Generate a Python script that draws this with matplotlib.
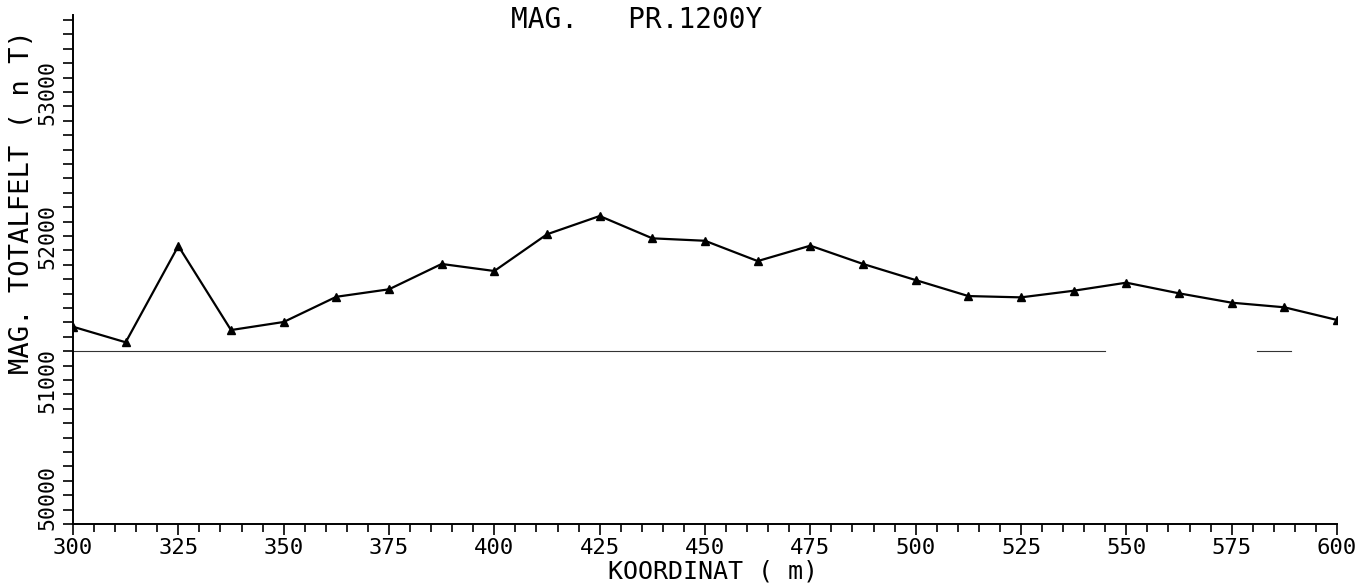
import numpy as np
import matplotlib
matplotlib.use("Agg")
import matplotlib.pyplot as plt
from matplotlib.ticker import MultipleLocator
from matplotlib.transforms import ScaledTranslation

# profile PR.1200Y, total magnetic field along the line
koordinat = [300, 312.5, 325, 337.5, 350, 362.5, 375, 387.5, 400, 412.5,
             425, 437.5, 450, 462.5, 475, 487.5, 500, 512.5, 525, 537.5,
             550, 562.5, 575, 587.5, 600]
totalfelt = [51370, 51262, 51931, 51347, 51403, 51578, 51630, 51806, 51757, 52012,
             52139, 51984, 51967, 51826, 51933, 51806, 51694, 51583, 51574, 51620,
             51676, 51602, 51537, 51505, 51417]

# faint base line seen on the plot sheet
base_level = 51200
base_segments = [(300, 545), (581, 589)]

y_major = [50000, 51000, 52000, 53000]

plt.rcParams['font.family'] = ['DejaVu Sans Mono', 'DejaVu Sans']

fig = plt.figure(figsize=(13.61, 5.86), dpi=100)
ax = fig.add_axes([73/1361, 62/586, 1264/1361, 509/586])

ax.plot(koordinat, totalfelt, color='black', lw=1.6, marker='^', ms=5.5,
        markerfacecolor='black', markeredgecolor='black')
for x0, x1 in base_segments:
    ax.plot([x0, x1], [base_level, base_level], color='#333333', lw=0.8)

ax.set_xlim(300, 600)
ax.set_ylim(50000, 53535)

for s in ['top', 'right']:
    ax.spines[s].set_visible(False)
for s in ['left', 'bottom']:
    ax.spines[s].set_linewidth(1.4)

ax.xaxis.set_major_locator(MultipleLocator(25))
ax.xaxis.set_minor_locator(MultipleLocator(5))
ax.set_yticks(y_major)
ax.set_yticklabels([str(v) for v in y_major], rotation=90, va='center')
ax.yaxis.set_minor_locator(MultipleLocator(100))

ax.tick_params(axis='x', which='major', direction='out', length=8, width=1.2,
               labelsize=16, pad=2)
ax.tick_params(axis='x', which='minor', direction='out', length=6, width=1.2)
ax.tick_params(axis='y', which='major', direction='out', length=7, width=1.2,
               labelsize=15.5, pad=4)
ax.tick_params(axis='y', which='minor', direction='out', length=7, width=1.2)

# lowest y label sits a bit higher on the original, clear of the "300"
lab0 = ax.get_yticklabels()[0]
lab0.set_transform(lab0.get_transform() + ScaledTranslation(0, 0.27, fig.dpi_scale_trans))

fig.text(637/1361, 1 - 20/586, 'MAG.   PR.1200Y', ha='center', va='center',
         fontsize=20)
fig.text(713/1361, 1 - 572/586, 'KOORDINAT ( m)', ha='center', va='center',
         fontsize=18)
fig.text(22/1361, 1 - 202/586, 'MAG. TOTALFELT ( n T)', ha='center', va='center',
         rotation=90, fontsize=19.5)

fig.savefig('out.png', dpi=100)
